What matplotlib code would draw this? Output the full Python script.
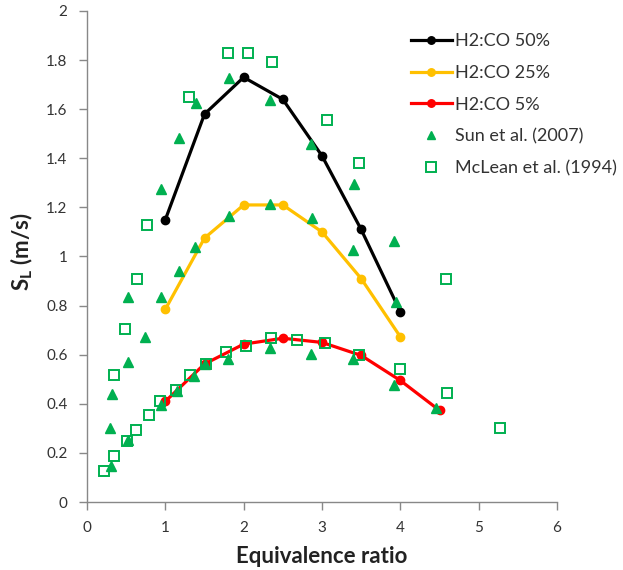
import matplotlib.pyplot as plt
from matplotlib.ticker import FuncFormatter, MultipleLocator

plt.rcParams['font.family'] = ['Lato', 'DejaVu Sans']
plt.rcParams['mathtext.fontset'] = 'custom'
plt.rcParams['mathtext.rm'] = 'Lato'
plt.rcParams['mathtext.bf'] = 'Lato:bold'

# ── data ────────────────────────────────────────────────────────────────────
phi_50 = [1.0, 1.5, 2.0, 2.5, 3.0, 3.5, 4.0]
sl_50 = [1.15, 1.58, 1.73, 1.64, 1.41, 1.11, 0.775]

phi_25 = [1.0, 1.5, 2.0, 2.5, 3.0, 3.5, 4.0]
sl_25 = [0.785, 1.075, 1.21, 1.21, 1.10, 0.91, 0.673]

phi_5 = [1.0, 1.5, 2.0, 2.5, 3.0, 3.5, 4.0, 4.5]
sl_5 = [0.41, 0.562, 0.643, 0.667, 0.65, 0.597, 0.495, 0.373]

sun_phi = [0.95, 1.17, 1.39, 1.81, 2.33, 2.86, 3.41, 3.92,
           0.52, 0.95, 1.17, 1.38, 1.81, 2.34, 2.87, 3.40, 3.94,
           0.32, 0.52, 0.74, 0.30, 0.52, 0.94, 1.15, 1.37, 1.50,
           1.80, 2.34, 2.86, 3.40, 3.92, 4.46, 0.31]
sun_sl = [1.274, 1.484, 1.624, 1.727, 1.636, 1.458, 1.297, 1.062,
          0.836, 0.836, 0.942, 1.038, 1.165, 1.214, 1.157, 1.027, 0.816,
          0.44, 0.572, 0.673, 0.301, 0.251, 0.395, 0.452, 0.512, 0.562,
          0.582, 0.629, 0.602, 0.582, 0.477, 0.383, 0.146]

mclean_phi = [0.77, 1.30, 1.80, 2.06, 2.36, 3.07, 3.47, 4.58,
              0.64, 0.49, 0.35, 0.22, 0.35, 0.51, 0.62, 0.79, 0.93,
              1.13, 1.31, 1.52, 1.77, 2.03, 2.35, 2.68, 3.04, 3.47,
              3.99, 4.59, 5.27]
mclean_sl = [1.13, 1.648, 1.827, 1.827, 1.791, 1.557, 1.379, 0.907,
             0.907, 0.705, 0.516, 0.127, 0.186, 0.247, 0.293, 0.353, 0.41,
             0.456, 0.516, 0.561, 0.611, 0.635, 0.669, 0.659, 0.648, 0.598,
             0.542, 0.446, 0.303]

# ── figure ──────────────────────────────────────────────────────────────────
W, H = 623, 570
fig = plt.figure(figsize=(W / 100, H / 100), dpi=100)
ax = fig.add_axes([87 / W, 1 - 502 / H, 470 / W, 491 / H])

green = '#00B050'
ax.plot(phi_50, sl_50, '-o', color='black', lw=2.3, ms=6, label='H2:CO 50%', zorder=4)
ax.plot(phi_25, sl_25, '-o', color='#FFC000', lw=2.3, ms=6, label='H2:CO 25%', zorder=4)
ax.plot(phi_5, sl_5, '-o', color='#FF0000', lw=2.3, ms=6, label='H2:CO 5%', zorder=4)
ax.plot(sun_phi, sun_sl, '^', color=green, ms=6.5, ls='none',
        label='Sun et al. (2007)', zorder=5)
ax.plot(mclean_phi, mclean_sl, 's', mfc='none', mec=green, mew=1.4, ms=7.5,
        ls='none', label='McLean et al. (1994)', zorder=5)

ax.set_xlim(0, 6)
ax.set_ylim(0, 2)
ax.xaxis.set_major_locator(MultipleLocator(1))
ax.yaxis.set_major_locator(MultipleLocator(0.2))
ax.yaxis.set_major_formatter(FuncFormatter(lambda v, p: f'{v:.1f}'.rstrip('0').rstrip('.')))

for s in ['top', 'right']:
    ax.spines[s].set_visible(False)
for s in ['left', 'bottom']:
    ax.spines[s].set_color('#888888')
    ax.spines[s].set_linewidth(1)
ax.tick_params(colors='#888888', length=6, width=1, labelsize=11,
               labelcolor='#333333', pad=8)

# axis titles
fig.text(22 / W, 1 - 252 / H, r'S$_\mathbf{L}$ (m/s)', rotation=90,
         ha='center', va='center', fontsize=16, fontweight='bold', color='#222222')
fig.text(322 / W, 1 - 563 / H, 'Equivalence ratio', ha='center', va='baseline',
         fontsize=16, fontweight='bold', color='#222222')

leg = ax.legend(loc='upper left', bbox_to_anchor=(411 / W, 1 - 33 / H),
                bbox_transform=fig.transFigure, frameon=False, fontsize=13,
                handlelength=2.25, handletextpad=0.16, labelspacing=0.88,
                borderpad=0, borderaxespad=0, markerscale=0.9)
for t in leg.get_texts():
    t.set_color('#333333')

fig.savefig('out.png', dpi=100, facecolor='white')
